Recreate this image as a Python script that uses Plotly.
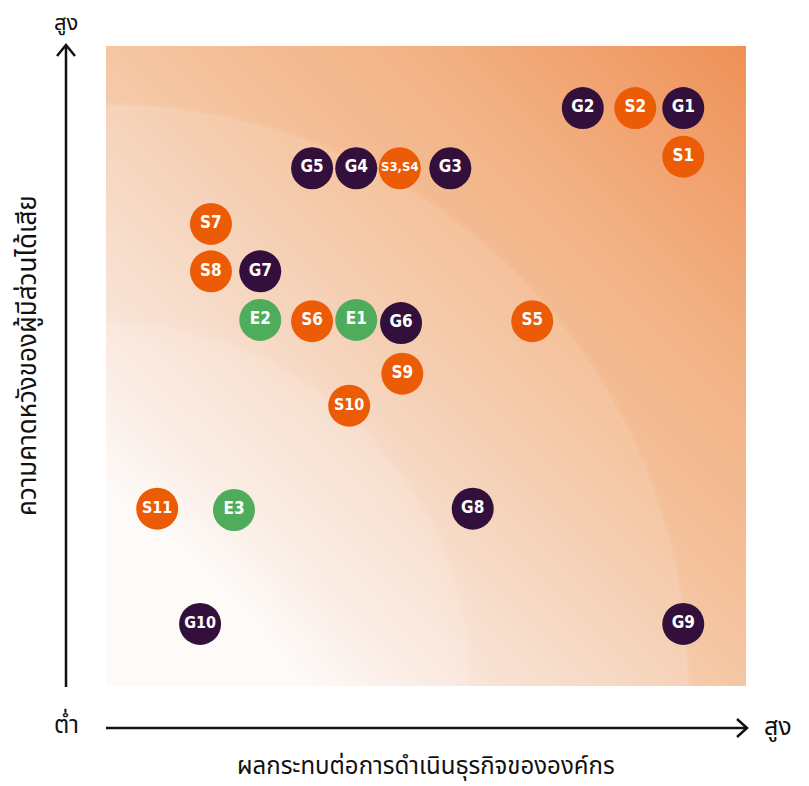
import numpy as np
import plotly.graph_objects as go

# ---------------- data ----------------
g_labels = ["G1", "G2", "G3", "G4", "G5", "G6", "G7", "G8", "G9", "G10"]
g_x = [90.2, 74.5, 53.8, 39.1, 32.2, 46.1, 24.1, 57.3, 90.2, 14.7]
g_y = [90.3, 90.3, 80.9, 80.9, 80.9, 56.7, 64.8, 27.7, 9.7, 9.7]

s_labels = ["S1", "S2", "S3,S4", "S5", "S6", "S7", "S8", "S9", "S10", "S11"]
s_x = [90.2, 82.7, 45.9, 66.6, 32.2, 16.4, 16.4, 46.3, 38.0, 8.0]
s_y = [82.7, 90.3, 80.9, 57.0, 57.0, 72.2, 64.8, 48.8, 43.8, 27.7]

e_labels = ["E1", "E2", "E3"]
e_x = [39.1, 24.1, 20.0]
e_y = [57.2, 57.2, 27.5]

x_title = "ผลกระทบต่อการดำเนินธุรกิจขององค์กร"
y_title = "ความคาดหวังของผู้มีส่วนได้เสีย"
high_label = "สูง"
low_label = "ต่ำ"

# ---------------- background gradient (decoration) ----------------
grid = np.linspace(0, 100, 401)
GX, GY = np.meshgrid(grid, grid)
R = np.sqrt(GX ** 2 + GY ** 2)


def soft_inside(r0, w):
    return 1.0 / (1.0 + np.exp((R - r0) / w))


z = (GX + GY) / 200.0
z = z - 0.08 * soft_inside(90.6, 0.3) - 0.06 * soft_inside(56.3, 0.7)
z = z - 0.05 * np.exp(-((R - 90.6) / 0.45) ** 2)
z = z - 0.015 * np.exp(-((R - 56.3) / 0.6) ** 2)
z = z - 0.10 * np.exp(-(R / 22.0) ** 2)
z = np.clip(z, 0, 1).round(3)

bg_scale = [
    [0.0, "#fefaf8"],
    [0.12, "#faebe2"],
    [0.25, "#f8e0d0"],
    [0.4, "#f5d0b5"],
    [0.5, "#f5c6a3"],
    [0.75, "#f2b183"],
    [1.0, "#ef9157"],
]

fig = go.Figure()
fig.add_trace(go.Heatmap(x=grid, y=grid, z=z, colorscale=bg_scale, zmin=0, zmax=1,
                         showscale=False, hoverinfo="skip", zsmooth="best"))

label_family = "DejaVu Sans Condensed, Liberation Sans Narrow, Arial Narrow, sans-serif"


def add_group(xs, ys, labels, color):
    sizes = [13 if len(t) > 3 else (16 if len(t) == 3 else 17) for t in labels]
    fig.add_trace(go.Scatter(
        x=xs, y=ys, mode="markers+text", text=[f"<b>{t}</b>" for t in labels],
        textposition="middle center",
        textfont=dict(family=label_family, size=sizes, color="white"),
        marker=dict(size=42, color=color, line=dict(width=0)),
        hoverinfo="text", showlegend=False, cliponaxis=False))


add_group(g_x, g_y, g_labels, "#33103c")
add_group(s_x, s_y, s_labels, "#ec5b05")
add_group(e_x, e_y, e_labels, "#4fac5b")

# axis arrows (paper coords)
shapes = []
W = 640.0
vx = -40 / W
ink = "#111111"
shapes.append(dict(type="line", xref="paper", yref="paper", x0=vx, x1=vx, y0=-1 / W, y1=1 + 1 / W,
                   line=dict(color=ink, width=2.5)))
shapes.append(dict(type="path", xref="paper", yref="paper",
                   path=f"M {vx - 9 / W} {1 - 10 / W} L {vx} {1 + 1 / W} L {vx + 9 / W} {1 - 10 / W}",
                   line=dict(color=ink, width=2.5)))
hy = (686 - 728) / W
hx1 = (747 - 106) / W
shapes.append(dict(type="line", xref="paper", yref="paper", x0=0, x1=hx1, y0=hy, y1=hy,
                   line=dict(color=ink, width=2.5)))
shapes.append(dict(type="path", xref="paper", yref="paper",
                   path=f"M {hx1 - 10 / W} {hy + 9 / W} L {hx1} {hy} L {hx1 - 10 / W} {hy - 9 / W}",
                   line=dict(color=ink, width=2.5)))

thai = "Noto Sans Thai, Noto Sans, DejaVu Sans, sans-serif"


def ann(text, px, py, size, angle=0):
    return dict(text=text, x=(px - 106) / W, y=(686 - py) / W, xref="paper", yref="paper",
                showarrow=False, xanchor="center", yanchor="middle", textangle=angle,
                font=dict(family=thai, size=size, color=ink))


annotations = [
    ann(high_label, 66, 23, 22),
    ann(low_label, 66, 726, 24),
    ann(high_label, 778, 727, 25),
    ann(x_title, 426, 767, 24),
    ann(y_title, 28, 356, 26, -90),
]

fig.update_layout(
    width=801, height=778,
    margin=dict(l=98, r=63, t=38, b=100),
    paper_bgcolor="white", plot_bgcolor="white",
    xaxis=dict(range=[0, 100], visible=False, fixedrange=True),
    yaxis=dict(range=[0, 100], visible=False, fixedrange=True),
    shapes=shapes, annotations=annotations, showlegend=False,
)

fig.write_html("out.html")
